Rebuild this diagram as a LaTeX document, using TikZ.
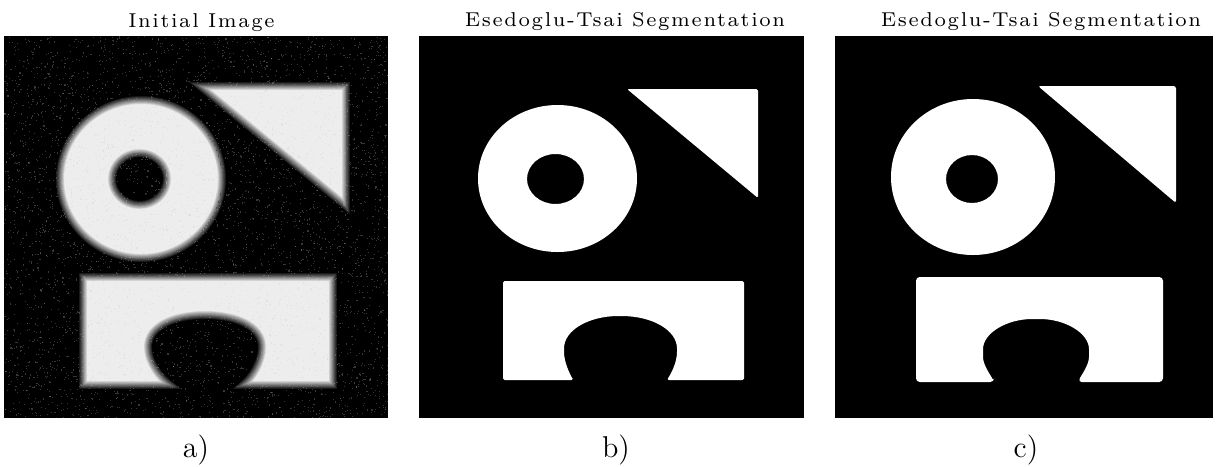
\documentclass[tikz,border=0pt]{standalone}
\usepackage{fontspec}
\usepackage{tikz}
\usetikzlibrary{positioning}

% spaced out face for the panel titles
\newfontfamily\titlefont{lmroman7-regular}[Extension=.otf,LetterSpace=8]

% soft edged region: #1 colour inside, #2 colour outside, #3 the path
\newcommand{\softfill}[3]{%
  \foreach \w in {8,6.5,5,3.5,2,0.8}{\draw[#1,opacity=.1,line width=\w*0.397pt] #3;}
  \begin{scope}
    \clip #3;
    \fill[#1] #3;
    \foreach \w in {8,6.5,5,3.5,2,0.8}{\draw[#2,opacity=.1,line width=\w*0.397pt] #3;}
  \end{scope}}

\begin{document}
\begin{tikzpicture}[
    x=0.014cm, y=-0.014cm,% one unit = one pixel
    panel/.style={fill=black},
    title/.style={anchor=base,font=\titlefont\fontsize{8}{10}\selectfont},
    tag/.style={anchor=base,font=\large},
    noise/.style={fill=gray!45,opacity=.28}]
  \useasboundingbox (0,0) rectangle (1217,466);

  %% a) noisy input
  \fill[panel] (4,36) rectangle (388,418);
  \begin{scope}
    \clip (4,36) rectangle (388,418);
    \softfill{white!93!black}{black}{(141,179) ellipse [x radius=81, y radius=79]}
    \softfill{black}{white!93!black}{(139.5,179) ellipse [x radius=27.5, y radius=26]}
    \softfill{white!93!black}{black}{(200,86) -- (346,86) -- (346,206) -- cycle}
    \softfill{white!93!black}{black}{(170,385) -- (83,385) -- (83,277) -- (333,277) -- (333,385) -- (243,385)
      .. controls (252,378) and (262,362) .. (262,347)
      .. controls (262,326) and (236,315) .. (205,315)
      .. controls (174,315) and (148,326) .. (148,347)
      .. controls (148,362) and (160,378) .. (170,385) -- cycle}
    % speckle
    \pgfmathsetseed{17}
    \foreach \i in {1,...,5000}
      \fill[noise] ({4+384*rnd},{36+382*rnd}) rectangle ++(1.1,1.1);
  \end{scope}
  \node[title] (titleA) at (201.5,27) {Initial Image};
  \node[tag] (tagA) at (196,457) {a)};

  %% b) segmentation
  \fill[panel] (419,36) rectangle (804,418);
  \fill[white,even odd rule] (557.5,178.5) ellipse [x radius=79.5, y radius=73.5]
    (555.5,179) ellipse [x radius=28.5, y radius=25];
  \fill[white,rounded corners=0.6pt] (627,89) -- (758,89) -- (758,198) -- cycle;
  \fill[white,rounded corners=0.6pt] (573,380) -- (503,380) -- (503,281) -- (744,281) -- (744,380) -- (667,380)
    .. controls (672,372) and (677,362) .. (677,350)
    .. controls (677,330) and (652,316) .. (620,316)
    .. controls (589,316) and (564,330) .. (564,350)
    .. controls (564,362) and (569,372) .. (573,380) -- cycle;
  \node[title] (titleB) at (625,26) {Esedoglu-Tsai Segmentation};
  \node[tag] (tagB) at (616,457) {b)};

  %% c) segmentation
  \fill[panel] (835,36) rectangle (1213,418);
  \fill[white,even odd rule] (973,177) ellipse [x radius=82, y radius=78]
    (972,179) ellipse [x radius=26, y radius=24];
  \fill[white,rounded corners=1pt] (1038,86) -- (1176,86) -- (1176,203) -- cycle;
  \fill[white,rounded corners=1.5pt] (994,382) -- (916,382) -- (916,277) -- (1163,277) -- (1163,382) -- (1078,382)
    .. controls (1082,374) and (1089,365) .. (1089,353)
    .. controls (1089,333) and (1065,319) .. (1036,319)
    .. controls (1007,319) and (983,333) .. (983,353)
    .. controls (983,365) and (990,374) .. (994,382) -- cycle;
  \node[title] (titleC) at (1041,26) {Esedoglu-Tsai Segmentation};
  \node[tag] (tagC) at (1026,457) {c)};
\end{tikzpicture}
\end{document}
